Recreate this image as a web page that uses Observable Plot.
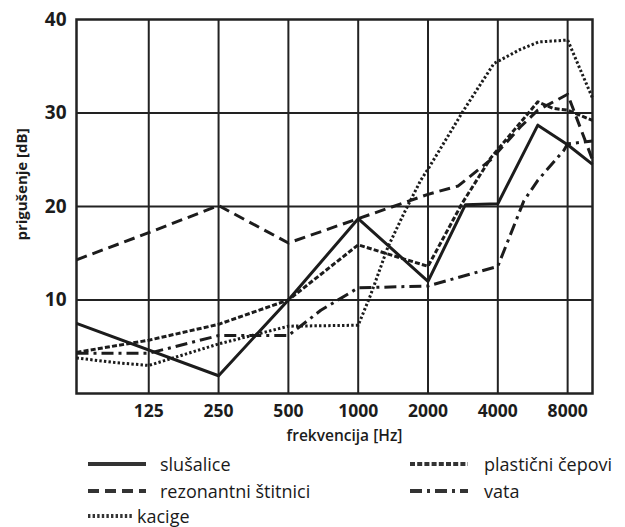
<!DOCTYPE html>
<html><head><meta charset="utf-8">
<script src="https://cdn.jsdelivr.net/npm/d3@7"></script>
<script src="https://cdn.jsdelivr.net/npm/@observablehq/plot@0.6"></script>
<style>
body{margin:0;background:#fff;font-family:"Open Sans",sans-serif;}
#wrap{position:relative;width:625px;height:527px;overflow:hidden;}
#legend{position:absolute;left:0;top:450px;width:625px;height:77px;}
.item{position:absolute;height:22px;display:flex;align-items:center;font-size:18px;color:#1a1a1a;white-space:nowrap;}
</style></head><body>
<div id="wrap"><div id="chart"></div><div id="legend"></div></div>
<script>
// ---- data ----
const xTicks = [125, 250, 500, 1000, 2000, 4000, 8000];
const yTicks = [10, 20, 30, 40];
const yGrid = [10, 20, 30];
const xTitle = "frekvencija [Hz]";
const yTitle = "prigušenje [dB]";
const seriesNames = ["slušalice", "rezonantni štitnici", "kacige", "plastični čepovi", "vata"];

const slusaliceHz = [61, 250, 500, 1000, 2000, 2900, 4000, 5950, 8000, 10240];
const slusaliceDb = [7.5, 1.9, 10.0, 18.7, 12.0, 20.2, 20.3, 28.7, 26.6, 24.5];

const rezonantniHz = [61, 125, 250, 500, 1000, 2000, 2700, 3730, 5000, 5950, 8000, 10240];
const rezonantniDb = [14.3, 17.2, 20.1, 16.1, 18.7, 21.3, 22.2, 25.0, 28.5, 30.3, 32.0, 25.0];

const kacigeHz = [61, 90, 125, 250, 500, 1000, 1130, 1340, 1570, 1860, 2000, 2850, 3850, 5000, 6000, 8000, 10240];
const kacigeDb = [3.8, 3.3, 3.0, 5.3, 7.2, 7.3, 10.5, 15.6, 19.2, 22.8, 24.0, 30.3, 35.3, 36.8, 37.6, 37.8, 31.6];

const plasticniHz = [61, 125, 250, 500, 1000, 2000, 2800, 3730, 5950, 6900, 8000, 10240];
const plasticniDb = [4.4, 5.7, 7.4, 10.0, 15.9, 13.6, 20.3, 25.2, 31.2, 30.5, 30.3, 29.2];

const vataHz = [61, 125, 250, 500, 690, 1000, 2000, 4000, 5180, 5950, 7700, 8000, 10240];
const vataDb = [4.3, 4.3, 6.2, 6.2, 8.9, 11.3, 11.5, 13.6, 20.6, 22.8, 26.0, 26.7, 27.0];

// ---- build ----
const hzs = [slusaliceHz, rezonantniHz, kacigeHz, plasticniHz, vataHz];
const dbs = [slusaliceDb, rezonantniDb, kacigeDb, plasticniDb, vataDb];
const dashes = [null, "11,6", "2.4,2.2", "5,2.2", "12,5,3,5"];
const ink = "#1c1c1c";

const lineMarks = seriesNames.map((name, i) => {
  const rows = hzs[i].map((hz, j) => ({name, hz, db: dbs[i][j]}));
  return Plot.line(rows, {x: "hz", y: "db", stroke: ink, strokeWidth: 3,
    strokeDasharray: dashes[i] ?? undefined, strokeLinejoin: "round", strokeLinecap: "butt"});
});

const chart = Plot.plot({
  width: 625, height: 450,
  marginLeft: 76, marginRight: 33, marginTop: 19, marginBottom: 57,
  x: {type: "log", base: 2, domain: [61, 10240]},
  y: {domain: [0, 40]},
  style: {fontFamily: "Open Sans, sans-serif", color: ink, background: "transparent"},
  marks: [
    Plot.gridX(xTicks, {stroke: "#222", strokeOpacity: 1, strokeWidth: 2}),
    Plot.gridY(yGrid, {stroke: "#222", strokeOpacity: 1, strokeWidth: 2}),
    Plot.frame({stroke: "#222", strokeWidth: 2.5}),
    ...lineMarks,
    Plot.axisX(xTicks, {tickSize: 0, tickPadding: 11, fontSize: 17.5, fontWeight: "bold", label: null, tickFormat: d => String(d)}),
    Plot.axisY(yTicks, {tickSize: 0, tickPadding: 10, fontSize: 19, fontWeight: "bold", label: null, tickFormat: d => String(d)}),
    Plot.text([xTitle], {text: d => d, frameAnchor: "bottom", dx: 10, dy: 47, fontSize: 15.5, fontWeight: 600}),
    Plot.text([yTitle], {text: d => d, frameAnchor: "left", textAnchor: "middle", dx: -54, dy: -22, rotate: -90, fontSize: 15, fontWeight: "bold"})
  ]
});
document.getElementById("chart").appendChild(chart);

// ---- legend ----
const legendPos = [
  {left: 88, top: 3, w: 58, gap: 14},
  {left: 88, top: 30, w: 58, gap: 14},
  {left: 88, top: 55, w: 45, gap: 4},
  {left: 410, top: 3, w: 58, gap: 16},
  {left: 410, top: 30, w: 58, gap: 16}
];
const legend = document.getElementById("legend");
seriesNames.forEach((name, i) => {
  const p = legendPos[i];
  const div = document.createElement("div");
  div.className = "item";
  div.style.left = p.left + "px";
  div.style.top = p.top + "px";
  const dash = dashes[i] ? `stroke-dasharray="${dashes[i]}"` : "";
  div.innerHTML = `<svg width="${p.w}" height="20"><line x1="0" x2="${p.w}" y1="10" y2="10" stroke="#333" stroke-width="4" ${dash}/></svg><span style="margin-left:${p.gap}px">${name}</span>`;
  legend.appendChild(div);
});
</script>
</body></html>
